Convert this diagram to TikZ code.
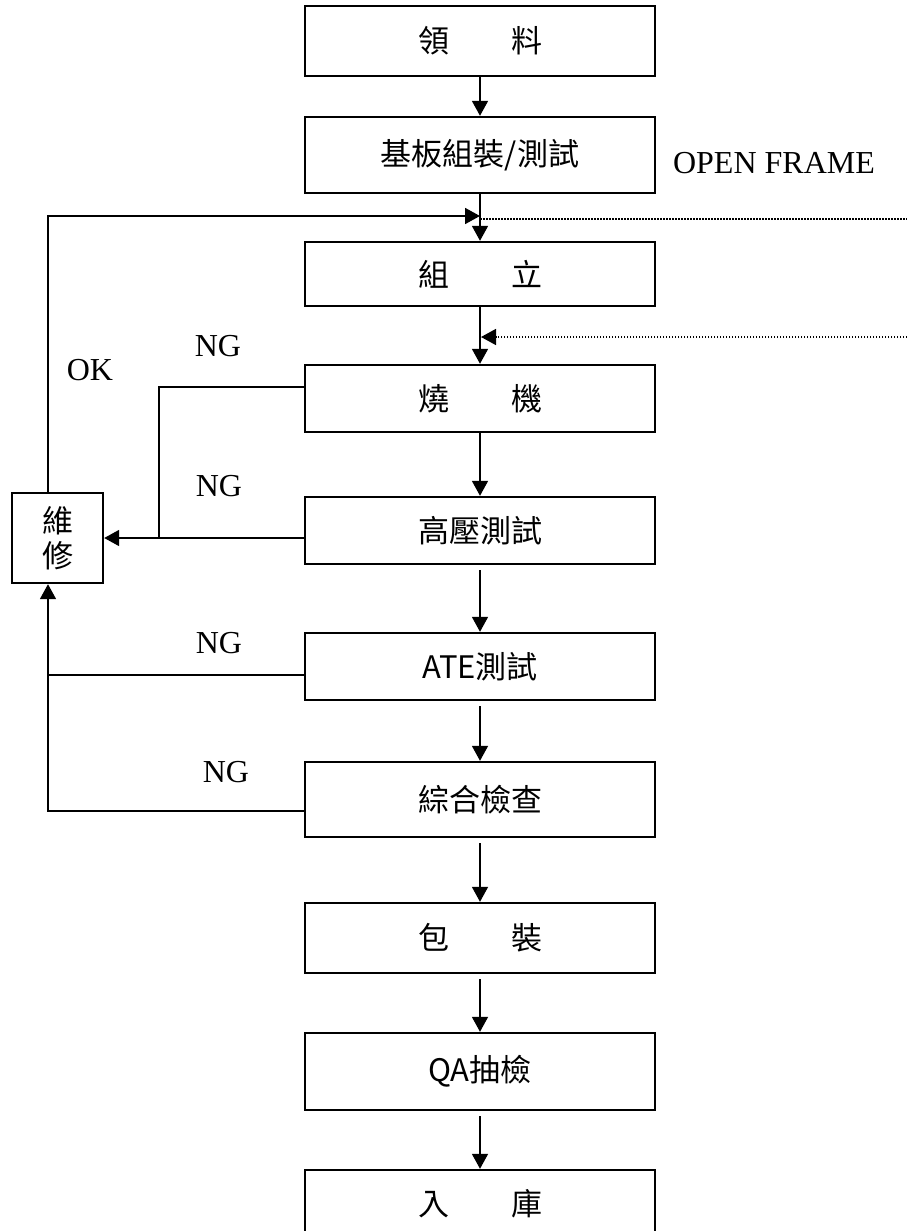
\documentclass[tikz,border=0pt]{standalone}
\usepackage{fontspec}
\setmainfont{Liberation Serif}
\newfontfamily\cjk{Noto Sans CJK TC}
\usetikzlibrary{arrows.meta}
\begin{document}
\begin{tikzpicture}[x=1pt,y=-1pt,
  stepbox/.style={draw, line width=2.4pt, minimum width=350pt, inner sep=0pt,
    font=\cjk\fontsize{31pt}{35pt}\selectfont, align=center},
  link/.style={line width=1.8pt},
  tip/.style={-{Triangle[length=15pt,width=16pt]}},
  arr/.style={link, tip},
  gap/.style={shorten <=5pt},
  lbl/.style={font=\fontsize{32pt}{36pt}\selectfont, inner sep=0pt},
  dots/.style={line width=1.5pt, dash pattern=on 1.5pt off 1.5pt}]
\useasboundingbox (0,0) rectangle (907,1231);
\clip (0,0) rectangle (907,1231);

% main column
\node[stepbox, minimum height=70pt] (b1) at (480,41) {領\hspace{2em}料};
\node[stepbox, minimum height=76pt] (b2) at (480,155) {基板組裝/測試};
\node[stepbox, minimum height=64pt] (b3) at (480,274) {組\hspace{2em}立};
\node[stepbox, minimum height=67pt] (b4) at (480,398.5) {燒\hspace{2em}機};
\node[stepbox, minimum height=67pt] (b5) at (480,530.5) {高壓測試};
\node[stepbox, minimum height=67pt] (b6) at (480,666.5) {ATE測試};
\node[stepbox, minimum height=75pt] (b7) at (480,799.5) {綜合檢查};
\node[stepbox, minimum height=70pt] (b8) at (480,938) {包\hspace{2em}裝};
\node[stepbox, minimum height=77pt] (b9) at (480,1071.5) {QA抽檢};
\node[stepbox, minimum height=68pt] (b10) at (480,1204) {入\hspace{2em}庫};

% repair box
\node[stepbox, minimum width=91pt, minimum height=90pt] (rep) at (57.5,538) {維\\修};

% labels
\node[lbl] (of) at (774,163) {OPEN FRAME};
\node[lbl] (ok) at (90,370) {OK};
\node[lbl] (ng1) at (218,346) {NG};
\node[lbl] (ng2) at (219,486) {NG};
\node[lbl] (ng3) at (219,643) {NG};
\node[lbl] (ng4) at (226,772) {NG};

% main flow arrows
\draw[arr] (b1.south) -- (b2.north);
\draw[arr] (b2.south) -- (b3.north);
\draw[arr] (b3.south) -- (b4.north);
\draw[arr] (b4.south) -- (b5.north);
\draw[arr, gap] (b5.south) -- (b6.north);
\draw[arr, gap] (b6.south) -- (b7.north);
\draw[arr, gap] (b7.south) -- (b8.north);
\draw[arr, gap] (b8.south) -- (b9.north);
\draw[arr, gap] (b9.south) -- (b10.north);

% OK return line
\coordinate (okv) at (48,216);
\draw[arr] (rep.north -| okv) -- (okv) -- (b2.south |- okv);

% OPEN FRAME dotted lines
\coordinate (d1) at (907,219);
\coordinate (d2) at (907,337);
\draw[dots] (b2.south |- d1) -- (d1);
\draw[dots, tip] (d2) -- ([xshift=1pt]b3.south |- d2);

% NG lines
\coordinate (n1) at (159,387);
\coordinate (n2) at (159,538);
\draw[link] (b4.west |- n1) -- (n1) -- (n2);
\draw[arr] (b5.west |- rep.east) -- (rep.east);
\coordinate (n3) at (48,675);
\coordinate (n4) at (48,811);
\draw[link] (b6.west |- n3) -- (n3);
\draw[arr] (b7.west |- n4) -- (n4) -- (rep.south -| n4);
\end{tikzpicture}
\end{document}
